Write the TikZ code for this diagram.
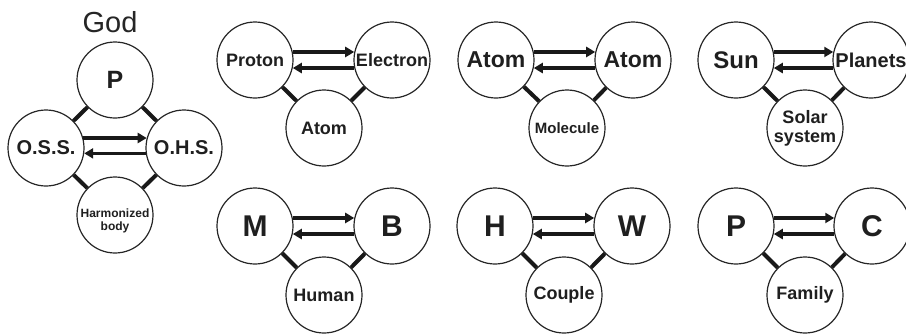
\documentclass[tikz,border=0pt]{standalone}
\usepackage{fontspec}
\setmainfont{Liberation Sans}
\usetikzlibrary{arrows.meta}
\newcommand\fsz[1]{\fontsize{#1}{#1}\selectfont}
\begin{document}
\begin{tikzpicture}[x=1pt,y=-1pt,
  circ/.style={circle,draw=black!85,line width=1.2pt,minimum size=76pt,inner sep=0pt,align=center,text=black!88},
  conn/.style={line width=4pt,draw=black!90},
  arr/.style={line width=3.4pt,draw=black!90,-{Triangle[length=9pt,width=10pt]}},
]
\useasboundingbox[fill=white] (0,0) rectangle (906,335);

% ---- God diagram
\node[anchor=base,text=black!85,font=\fsz{29}] (god) at (110,32) {God};
\node[circ,font=\bfseries\fsz{25}] (gp) at (115,80) {P};
\node[circ,font=\bfseries\fsz{20}] (oss) at (46,148) {O.S.S.};
\node[circ,font=\bfseries\fsz{20}] (ohs) at (184,148) {O.H.S.};
\node[circ,label={[font=\bfseries\fontsize{12}{13}\selectfont,align=center,text=black!88,yshift=-6pt]center:Harmonized\\body}] (hb) at (115,215) {};
\draw[conn] (gp) -- (oss);
\draw[conn] (gp) -- (ohs);
\draw[conn] (hb) -- (oss);
\draw[conn] (hb) -- (ohs);
\draw[arr] (oss.15) -- (ohs.165);
\draw[arr] (ohs.-172) -- (oss.-8);

% ---- Proton / Electron / Atom
\node[circ,font=\bfseries\fsz{18}] (a1) at (255,60) {Proton};
\node[circ,font=\bfseries\fsz{18}] (b1) at (392,60) {Electron};
\node[circ,font=\bfseries\fsz{18}] (c1) at (324,128) {Atom};
% ---- Atom / Atom / Molecule
\node[circ,font=\bfseries\fsz{23}] (a2) at (496,60) {Atom};
\node[circ,font=\bfseries\fsz{23}] (b2) at (633,60) {Atom};
\node[circ,font=\bfseries\fsz{15}] (c2) at (567,128) {Molecule};
% ---- Sun / Planets / Solar system
\node[circ,font=\bfseries\fsz{24}] (a3) at (736,60) {Sun};
\node[circ,font=\bfseries\fsz{20}] (b3) at (871,60) {Planets};
\node[circ,font=\bfseries\fontsize{18}{19}\selectfont] (c3) at (805,128) {Solar\\system};
% ---- M / B / Human
\node[circ,font=\bfseries\fsz{30}] (a4) at (255,226) {M};
\node[circ,font=\bfseries\fsz{30}] (b4) at (392,226) {B};
\node[circ,font=\bfseries\fsz{18}] (c4) at (324,295) {Human};
% ---- H / W / Couple
\node[circ,font=\bfseries\fsz{30}] (a5) at (495,226) {H};
\node[circ,font=\bfseries\fsz{30}] (b5) at (632,226) {W};
\node[circ,font=\bfseries\fsz{18}] (c5) at (564,295) {Couple};
% ---- P / C / Family
\node[circ,font=\bfseries\fsz{30}] (a6) at (736,226) {P};
\node[circ,font=\bfseries\fsz{30}] (b6) at (872,226) {C};
\node[circ,font=\bfseries\fsz{18}] (c6) at (805,295) {Family};

\foreach \i in {1,...,6}{
  \draw[conn] (a\i) -- (c\i);
  \draw[conn] (b\i) -- (c\i);
  \draw[arr] (a\i.12) -- (b\i.168);
  \draw[arr] (b\i.-168) -- (a\i.-12);
}
\end{tikzpicture}
\end{document}
